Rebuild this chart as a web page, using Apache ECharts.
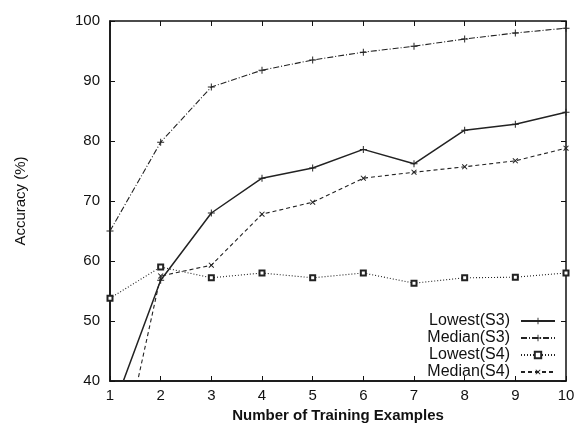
<!DOCTYPE html>
<html>
<head>
  <meta charset="UTF-8">
  <title>Accuracy vs training examples</title>
  <style>
    body { margin: 0; background: #fff; }
    #chart { width: 577px; height: 426px; }
  </style>
  <script src="https://cdn.jsdelivr.net/npm/echarts@6/dist/echarts.min.js"></script>
</head>
<body>
  <div id="chart"></div>
  <script>
    // data
    var examples = [1, 2, 3, 4, 5, 6, 7, 8, 9, 10];
    var lowestS3 = [34, 56.8, 68, 73.8, 75.5, 78.6, 76.2, 81.8, 82.8, 84.8];
    var medianS3 = [65, 79.8, 89, 91.8, 93.5, 94.8, 95.8, 97, 98, 98.8];
    var lowestS4 = [53.8, 59, 57.2, 58, 57.2, 58, 56.3, 57.2, 57.3, 58];
    var medianS4 = [19, 57.5, 59.3, 67.8, 69.8, 73.8, 74.8, 75.7, 76.7, 78.8];

    var plusPath = 'path://M4.3,0H5.7V4.3H10V5.7H5.7V10H4.3V5.7H0V4.3H4.3Z';
    var font = 'Liberation Sans, Arial, sans-serif';

    function pairs(ys) {
      return examples.map(function (x, i) { return [x, ys[i]]; });
    }

    function line(name, ys, type, width, symbol, size, rotate) {
      return {
        name: name,
        type: 'line',
        data: pairs(ys),
        clip: true,
        symbol: symbol,
        symbolSize: size,
        symbolRotate: rotate || 0,
        showSymbol: true,
        lineStyle: { color: '#222', width: width, type: type },
        itemStyle: { color: '#222', borderColor: '#222', borderWidth: symbol === 'emptyRect' ? 1 : 0 }
      };
    }

    var chart = echarts.init(document.getElementById('chart'));
    chart.setOption({
      animation: false,
      textStyle: { fontFamily: font },
      grid: {
        left: 110, right: 11, top: 21, bottom: 45,
        outerBoundsMode: 'none',
        show: true, borderColor: '#111', borderWidth: 1.5
      },
      legend: {
        orient: 'vertical',
        align: 'right',
        right: 16,
        top: 308,
        itemGap: 1,
        itemWidth: 34,
        itemHeight: 8,
        textStyle: { color: '#111', fontSize: 16, lineHeight: 16, fontFamily: font, padding: [0, 6, 0, 0] },
        data: ['Lowest(S3)', 'Median(S3)', 'Lowest(S4)', 'Median(S4)']
      },
      xAxis: [{
        type: 'value',
        min: 1, max: 10, interval: 1,
        name: 'Number of Training Examples',
        nameLocation: 'middle',
        nameGap: 23,
        nameTextStyle: { color: '#111', fontSize: 15, fontWeight: 'bold' },
        axisLine: { lineStyle: { color: '#111', width: 1.5 } },
        axisTick: { inside: true, length: 5, lineStyle: { color: '#111' } },
        axisLabel: { color: '#111', fontSize: 15, margin: 7 },
        splitLine: { show: false }
      }, {
        type: 'value', position: 'top',
        min: 1, max: 10, interval: 1,
        axisLine: { show: false },
        axisTick: { inside: true, length: 5, lineStyle: { color: '#111' } },
        axisLabel: { show: false },
        splitLine: { show: false }
      }],
      yAxis: [{
        type: 'value',
        min: 40, max: 100, interval: 10,
        name: 'Accuracy (%)',
        nameLocation: 'middle',
        nameRotate: 90,
        nameGap: 82,
        nameTextStyle: { color: '#111', fontSize: 15 },
        axisLine: { show: true, lineStyle: { color: '#111', width: 1.5 } },
        axisTick: { show: true, inside: true, length: 5, lineStyle: { color: '#111' } },
        axisLabel: { color: '#111', fontSize: 15, margin: 10 },
        splitLine: { show: false }
      }, {
        type: 'value', position: 'right',
        min: 40, max: 100, interval: 10,
        axisLine: { show: false },
        axisTick: { show: true, inside: true, length: 5, lineStyle: { color: '#111' } },
        axisLabel: { show: false },
        splitLine: { show: false }
      }],
      series: [
        line('Lowest(S3)', lowestS3, 'solid', 1.5, plusPath, 7),
        line('Median(S3)', medianS3, [6, 2, 1, 2], 1.1, plusPath, 7),
        line('Lowest(S4)', lowestS4, [1, 2], 1.1, 'emptyRect', 5),
        line('Median(S4)', medianS4, [4, 3], 1.1, plusPath, 7, 45)
      ]
    });
  </script>
</body>
</html>
